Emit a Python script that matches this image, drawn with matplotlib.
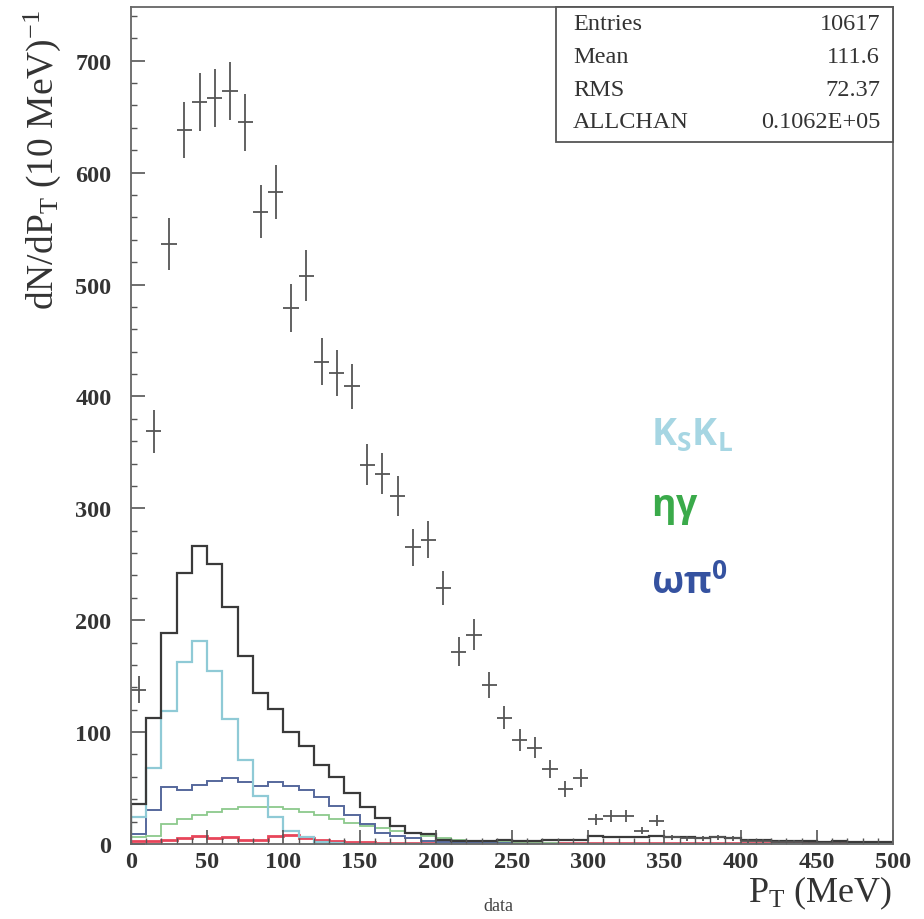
import numpy as np
import matplotlib
matplotlib.use('Agg')
import matplotlib.pyplot as plt
from matplotlib.ticker import MultipleLocator
from matplotlib.patches import Rectangle

plt.rcParams['font.family'] = ['Liberation Serif', 'DejaVu Serif']
plt.rcParams['mathtext.fontset'] = 'custom'
plt.rcParams['mathtext.rm'] = 'Liberation Serif'
plt.rcParams['mathtext.it'] = 'Liberation Serif:italic'
plt.rcParams['mathtext.bf'] = 'Liberation Serif:bold'
plt.rcParams['mathtext.sf'] = 'Open Sans:bold'

# 10 MeV bins, 0 - 500 MeV
bin_edges = np.arange(0, 510, 10)

# data points (counts per bin)
data_counts = [138, 369, 536, 638, 663, 667, 673, 645, 565, 583,
               479, 508, 431, 421, 409, 339, 331, 311, 265, 272,
               229, 172, 187, 142, 113, 93, 86, 67, 49, 59,
               22, 25, 25, 12, 21, 6, 5, 5, 6, 5,
               3, 3, 2, 2, 1, 1, 1, 0, 0, 0]

# total MC (black)
total_mc = [36, 113, 189, 242, 266, 250, 212, 168, 135, 121,
            100, 88, 71, 60, 46, 33, 23, 16, 10, 9,
            4, 3, 3, 3, 4, 3, 3, 4, 4, 4,
            7, 6, 6, 6, 7, 6, 6, 5, 6, 5,
            4, 4, 3, 3, 3, 2, 3, 2, 2, 2]

# K_S K_L (light blue)
kskl = [24, 68, 119, 163, 181, 155, 112, 75, 43, 24,
        12, 6, 2, 1] + [0] * 36

# omega pi0 (dark blue)
omegapi0 = [9, 30, 51, 48, 53, 56, 59, 55, 52, 55,
            52, 48, 42, 34, 26, 18, 10, 7, 5, 3,
            2, 2, 1, 1, 1] + [0] * 25

# eta gamma (green)
etagamma = [6, 7, 18, 22, 26, 29, 31, 33, 33, 33,
            31, 29, 26, 22, 19, 16, 14, 12, 10, 7,
            5, 4, 3, 2, 2, 1, 1, 1] + [0] * 22

# other (red)
other = [3, 3, 4, 5, 7, 5, 6, 4, 4, 7,
         8, 5, 4, 3, 2, 2, 1, 1, 1, 1] + [1] * 30

stats_names = ['Entries', 'Mean', 'RMS', 'ALLCHAN']
stats_values = ['10617', '111.6', '72.37', '0.1062E+05']

fig = plt.figure(figsize=(9.24, 9.2), dpi=100)
ax = fig.add_axes([131 / 924, 1 - 845 / 920, (893 - 131) / 924, (845 - 8) / 920])

ax.stairs(other, bin_edges, color='#e8455a', lw=2.0)
ax.stairs(etagamma, bin_edges, color='#8cc98c', lw=1.3)
ax.stairs(omegapi0, bin_edges, color='#56689c', lw=1.4)
ax.stairs(kskl, bin_edges, color='#8fcad6', lw=1.6)
ax.stairs(total_mc, bin_edges, color='#3a3a3a', lw=1.6)

centers = (bin_edges[:-1] + bin_edges[1:]) / 2
counts = np.array(data_counts, dtype=float)
mask = counts > 0
ax.errorbar(centers[mask], counts[mask], yerr=np.sqrt(counts[mask]), xerr=5,
            fmt='none', ecolor='#555555', elinewidth=1.3)

ax.set_xlim(0, 500)
ax.set_ylim(0, 748)
ax.xaxis.set_major_locator(MultipleLocator(50))
ax.xaxis.set_minor_locator(MultipleLocator(10))
ax.yaxis.set_major_locator(MultipleLocator(100))
ax.yaxis.set_minor_locator(MultipleLocator(20))
ax.tick_params(which='both', direction='in', top=False, right=False, color='#555555')
ax.tick_params(which='major', length=10, width=1.2, labelsize=17.5, labelcolor='#333333')
ax.tick_params(which='minor', length=4, width=1.0)
ax.tick_params(axis='y', pad=14)
ax.tick_params(axis='x', pad=5)
plt.setp(ax.get_xticklabels(), fontweight='bold')
plt.setp(ax.get_yticklabels(), fontweight='bold')
for s in ax.spines.values():
    s.set_color('#666666')
    s.set_linewidth(1.3)

# component labels
ax.text(341, 366, r'$\mathsf{K_S K_L}$', color='#a6d6e3', fontsize=27, va='center')
ax.text(341, 300, r'$\mathsf{\eta\gamma}$', color='#3aaa4a', fontsize=27, va='center')
ax.text(341, 234, r'$\mathsf{\omega\pi^0}$', color='#3552a0', fontsize=27, va='center')

# stats box
box = Rectangle((556 / 924, 1 - 143 / 920), (893 - 556) / 924, 135 / 920,
                transform=fig.transFigure, facecolor='white', edgecolor='#555555', lw=1.3)
fig.patches.append(box)
for i, (n, v) in enumerate(zip(stats_names, stats_values)):
    yy = 1 - (25 + 32.5 * i) / 920
    fig.text(573 / 924, yy, n, fontsize=17.5, color='#333333', va='center', ha='left')
    fig.text(880 / 924, yy, v, fontsize=17.5, color='#333333', va='center', ha='right')

fig.text(892 / 924, 1 - 902 / 920, r'P$_{\rm T}$ (MeV)', fontsize=26, color='#333333',
         ha='right', va='baseline')
fig.text(42 / 924, 1 - 10 / 920, r'dN/dP$_{\rm T}$ (10 MeV)$^{-1}$', fontsize=27,
         color='#333333', rotation=90, ha='center', va='top')
fig.text(498 / 924, 1 - 907 / 920, 'data', fontsize=13, color='#444444', ha='center', va='center')

fig.savefig('out.png', dpi=100)
plt.close(fig)
